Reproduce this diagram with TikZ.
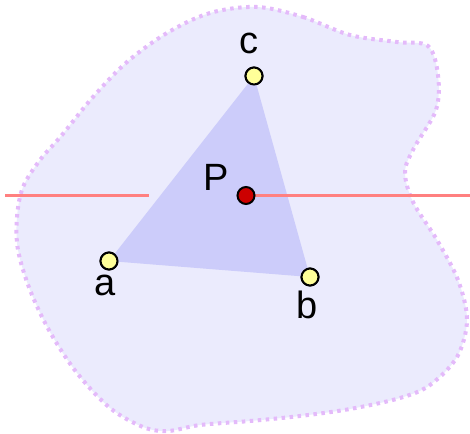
\documentclass[tikz,border=0pt]{standalone}
\usepackage{fontspec}
\setmainfont{Liberation Sans}
\definecolor{blobfill}{RGB}{235,235,253}
\definecolor{blobline}{RGB}{228,186,250}
\definecolor{trifill}{RGB}{204,204,250}
\definecolor{redline}{RGB}{255,128,128}
\definecolor{ptyellow}{RGB}{255,255,153}
\definecolor{ptred}{RGB}{204,0,0}
\tikzset{
  pt/.style={circle, draw=black, line width=2pt, fill=ptyellow, minimum size=17pt, inner sep=0pt},
  ptP/.style={circle, draw=black, line width=2pt, fill=ptred, minimum size=17pt, inner sep=0pt},
  lbl/.style={anchor=base, inner sep=0pt, font=\fontsize{38}{40}\selectfont},
  hline/.style={draw=redline, line width=2.6pt},
}
\begin{document}
\begin{tikzpicture}[x=1pt, y=-1pt]
\useasboundingbox (0,0) rectangle (470,433);
% blob
\draw[fill=blobfill, draw=blobline, line width=4pt, dash pattern=on 3.5pt off 4.5pt]
  plot[smooth cycle, tension=0.55] coordinates {
  (257,7) (303,17) (350,35) (397,42) (428,46) (438,75) (436,110) (414,148)
  (405,172) (413,202) (437,240) (458,280) (467,320) (457,357) (430,385)
  (400,398) (350,409) (300,416) (250,421) (200,425) (168,431) (143,427)
  (110,408) (77,373) (50,332) (30,290) (18,250) (17,217) (23,187) (40,160)
  (62,135) (93,97) (127,62) (167,33) (210,13)};
% point nodes
\node[pt] (a) at (109,261) {};
\node[pt] (b) at (310,277) {};
\node[pt] (c) at (254,76) {};
\node[ptP] (P) at (246,195.5) {};
% triangle
\fill[trifill] (a.center) -- (b.center) -- (c.center) -- cycle;
% red lines
\coordinate (L1) at (5,195.5);
\coordinate (L2) at (149,195.5);
\coordinate (R) at (470,195.5);
\draw[hline] (L1) -- (L2);
\draw[hline] (P.center) -- (R);
% redraw points on top
\node[pt] at (a) {};
\node[pt] at (b) {};
\node[pt] at (c) {};
\node[ptP] at (P) {};
% labels
\node[lbl] (la) at (105,295) {a};
\node[lbl] (lb) at (307,318) {b};
\node[lbl] (lc) at (249,54) {c};
\node[lbl] (lP) at (216,190) {P};
\end{tikzpicture}
\end{document}
